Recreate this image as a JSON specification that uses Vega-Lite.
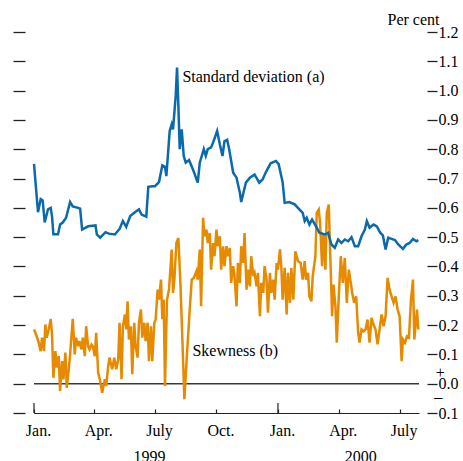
{
"$schema": "https://vega.github.io/schema/vega-lite/v6.json",
"width": 385, "height": 381,
"autosize": {"type": "none"},
"padding": {"left": 34, "top": 32, "right": 44, "bottom": 48},
"background": "white",
"config": {"view": {"stroke": null}, "font": "Liberation Serif"},
"datasets": {
"skew": [
{"day":0,"value":0.185},{"day":4,"value":0.162},{"day":7,"value":0.14},{"day":10,"value":0.111},{"day":12,"value":0.157},{"day":15,"value":0.111},{"day":17,"value":0.202},{"day":19,"value":0.157},{"day":22,"value":0.185},{"day":25,"value":0.221},{"day":27,"value":0.168},{"day":29,"value":0.02},{"day":32,"value":0.111},{"day":34,"value":0.055},{"day":37,"value":0.094},{"day":39,"value":-0.025},{"day":42,"value":0.077},{"day":44,"value":0.015},{"day":47,"value":0.106},{"day":49,"value":-0.014},{"day":52,"value":0.049},{"day":54,"value":0.1},{"day":58,"value":0.221},{"day":61,"value":0.1},{"day":63,"value":0.157},{"day":66,"value":0.128},{"day":68,"value":0.145},{"day":71,"value":0.117},{"day":73,"value":0.157},{"day":76,"value":0.094},{"day":78,"value":0.196},{"day":81,"value":0.128},{"day":83,"value":0.117},{"day":86,"value":0.134},{"day":88,"value":0.128},{"day":91,"value":0.094},{"day":93,"value":0.174},{"day":96,"value":0.037},{"day":99,"value":0.009},{"day":102,"value":-0.031},{"day":106,"value":0.015},{"day":108,"value":-0.008},{"day":111,"value":0.06},{"day":113,"value":0.089},{"day":117,"value":0.049},{"day":120,"value":0.089},{"day":123,"value":0.049},{"day":126,"value":0.083},{"day":128,"value":0.208},{"day":131,"value":0.015},{"day":133,"value":0.196},{"day":136,"value":0.236},{"day":138,"value":0.185},{"day":140,"value":0.281},{"day":142,"value":0.151},{"day":145,"value":0.196},{"day":147,"value":0.032},{"day":150,"value":0.208},{"day":152,"value":0.128},{"day":155,"value":0.089},{"day":157,"value":0.208},{"day":160,"value":0.253},{"day":162,"value":0.157},{"day":165,"value":0.208},{"day":167,"value":0.145},{"day":170,"value":0.208},{"day":172,"value":0.077},{"day":175,"value":0.196},{"day":177,"value":0.077},{"day":180,"value":0.208},{"day":182,"value":0.219},{"day":185,"value":0.321},{"day":187,"value":0.287},{"day":190,"value":0.355},{"day":192,"value":0.22},{"day":194,"value":0.287},{"day":196,"value":-0.008},{"day":199,"value":0.287},{"day":202,"value":0.321},{"day":206,"value":0.458},{"day":208,"value":0.31},{"day":210,"value":0.355},{"day":213,"value":0.48},{"day":216,"value":0.497},{"day":219,"value":0.344},{"day":222,"value":0.151},{"day":225,"value":-0.053},{"day":229,"value":0.106},{"day":233,"value":0.253},{"day":236,"value":0.355},{"day":239,"value":0.361},{"day":243,"value":0.384},{"day":245,"value":0.355},{"day":248,"value":0.458},{"day":250,"value":0.264},{"day":253,"value":0.566},{"day":255,"value":0.503},{"day":258,"value":0.526},{"day":260,"value":0.48},{"day":263,"value":0.514},{"day":265,"value":0.389},{"day":268,"value":0.48},{"day":270,"value":0.435},{"day":273,"value":0.526},{"day":275,"value":0.469},{"day":278,"value":0.503},{"day":280,"value":0.389},{"day":283,"value":0.469},{"day":285,"value":0.401},{"day":288,"value":0.469},{"day":290,"value":0.435},{"day":293,"value":0.463},{"day":295,"value":0.344},{"day":298,"value":0.401},{"day":300,"value":0.367},{"day":303,"value":0.264},{"day":305,"value":0.412},{"day":308,"value":0.344},{"day":310,"value":0.469},{"day":313,"value":0.412},{"day":315,"value":0.514},{"day":318,"value":0.321},{"day":320,"value":0.389},{"day":323,"value":0.332},{"day":325,"value":0.435},{"day":328,"value":0.367},{"day":330,"value":0.378},{"day":333,"value":0.332},{"day":335,"value":0.378},{"day":338,"value":0.23},{"day":340,"value":0.344},{"day":343,"value":0.31},{"day":345,"value":0.401},{"day":348,"value":0.355},{"day":350,"value":0.242},{"day":353,"value":0.378},{"day":355,"value":0.31},{"day":358,"value":0.355},{"day":360,"value":0.287},{"day":363,"value":0.412},{"day":365,"value":0.389},{"day":368,"value":0.458},{"day":370,"value":0.4},{"day":372,"value":0.287},{"day":375,"value":0.395},{"day":378,"value":0.236},{"day":380,"value":0.378},{"day":383,"value":0.276},{"day":385,"value":0.395},{"day":388,"value":0.287},{"day":391,"value":0.452},{"day":395,"value":0.418},{"day":399,"value":0.412},{"day":402,"value":0.355},{"day":405,"value":0.418},{"day":407,"value":0.355},{"day":410,"value":0.378},{"day":412,"value":0.298},{"day":415,"value":0.281},{"day":417,"value":0.367},{"day":421,"value":0.435},{"day":423,"value":0.583},{"day":426,"value":0.594},{"day":428,"value":0.549},{"day":431,"value":0.401},{"day":433,"value":0.514},{"day":436,"value":0.389},{"day":438,"value":0.583},{"day":441,"value":0.611},{"day":443,"value":0.458},{"day":446,"value":0.23},{"day":448,"value":0.338},{"day":451,"value":0.264},{"day":453,"value":0.14},{"day":456,"value":0.298},{"day":459,"value":0.435},{"day":462,"value":0.344},{"day":465,"value":0.429},{"day":468,"value":0.276},{"day":471,"value":0.389},{"day":474,"value":0.344},{"day":476,"value":0.31},{"day":479,"value":0.276},{"day":482,"value":0.298},{"day":485,"value":0.174},{"day":487,"value":0.14},{"day":490,"value":0.185},{"day":493,"value":0.179},{"day":496,"value":0.185},{"day":499,"value":0.219},{"day":502,"value":0.14},{"day":505,"value":0.225},{"day":508,"value":0.202},{"day":511,"value":0.185},{"day":514,"value":0.134},{"day":517,"value":0.185},{"day":520,"value":0.236},{"day":523,"value":0.196},{"day":526,"value":0.23},{"day":529,"value":0.361},{"day":532,"value":0.321},{"day":535,"value":0.298},{"day":538,"value":0.276},{"day":541,"value":0.298},{"day":544,"value":0.253},{"day":547,"value":0.23},{"day":550,"value":0.077},{"day":552,"value":0.151},{"day":555,"value":0.14},{"day":558,"value":0.162},{"day":561,"value":0.157},{"day":564,"value":0.287},{"day":567,"value":0.355},{"day":569,"value":0.151},{"day":573,"value":0.253},{"day":575,"value":0.185}
],
"sd": [
{"day":0,"value":0.75},{"day":6,"value":0.585},{"day":10,"value":0.63},{"day":13,"value":0.625},{"day":16,"value":0.55},{"day":21,"value":0.595},{"day":25,"value":0.6},{"day":27,"value":0.57},{"day":29,"value":0.51},{"day":36,"value":0.51},{"day":39,"value":0.543},{"day":43,"value":0.55},{"day":48,"value":0.566},{"day":54,"value":0.62},{"day":58,"value":0.605},{"day":66,"value":0.6},{"day":69,"value":0.597},{"day":72,"value":0.526},{"day":81,"value":0.537},{"day":92,"value":0.54},{"day":94,"value":0.509},{"day":99,"value":0.498},{"day":107,"value":0.517},{"day":112,"value":0.512},{"day":121,"value":0.509},{"day":128,"value":0.528},{"day":133,"value":0.555},{"day":138,"value":0.535},{"day":144,"value":0.572},{"day":151,"value":0.585},{"day":157,"value":0.595},{"day":161,"value":0.577},{"day":168,"value":0.57},{"day":171,"value":0.672},{"day":177,"value":0.674},{"day":181,"value":0.674},{"day":187,"value":0.688},{"day":192,"value":0.745},{"day":196,"value":0.74},{"day":198,"value":0.708},{"day":203,"value":0.862},{"day":206,"value":0.885},{"day":208,"value":0.868},{"day":212,"value":0.982},{"day":214,"value":1.079},{"day":216,"value":0.948},{"day":218,"value":0.8},{"day":221,"value":0.868},{"day":224,"value":0.777},{"day":227,"value":0.754},{"day":232,"value":0.763},{"day":238,"value":0.73},{"day":245,"value":0.686},{"day":248,"value":0.754},{"day":254,"value":0.8},{"day":257,"value":0.777},{"day":260,"value":0.8},{"day":265,"value":0.806},{"day":268,"value":0.823},{"day":274,"value":0.862},{"day":278,"value":0.817},{"day":282,"value":0.777},{"day":285,"value":0.828},{"day":289,"value":0.832},{"day":292,"value":0.8},{"day":298,"value":0.72},{"day":303,"value":0.703},{"day":308,"value":0.652},{"day":310,"value":0.62},{"day":317,"value":0.686},{"day":323,"value":0.703},{"day":330,"value":0.714},{"day":337,"value":0.686},{"day":342,"value":0.697},{"day":347,"value":0.722},{"day":354,"value":0.752},{"day":362,"value":0.76},{"day":366,"value":0.749},{"day":372,"value":0.687},{"day":375,"value":0.617},{"day":382,"value":0.62},{"day":390,"value":0.612},{"day":397,"value":0.595},{"day":402,"value":0.583},{"day":405,"value":0.555},{"day":408,"value":0.566},{"day":412,"value":0.543},{"day":416,"value":0.56},{"day":422,"value":0.537},{"day":427,"value":0.515},{"day":435,"value":0.509},{"day":440,"value":0.515},{"day":445,"value":0.475},{"day":450,"value":0.464},{"day":455,"value":0.492},{"day":460,"value":0.48},{"day":465,"value":0.492},{"day":470,"value":0.486},{"day":475,"value":0.5},{"day":480,"value":0.469},{"day":485,"value":0.469},{"day":490,"value":0.503},{"day":495,"value":0.526},{"day":498,"value":0.555},{"day":502,"value":0.532},{"day":508,"value":0.543},{"day":513,"value":0.537},{"day":518,"value":0.515},{"day":522,"value":0.506},{"day":526,"value":0.458},{"day":530,"value":0.498},{"day":535,"value":0.494},{"day":540,"value":0.49},{"day":545,"value":0.475},{"day":552,"value":0.46},{"day":557,"value":0.475},{"day":562,"value":0.48},{"day":567,"value":0.494},{"day":572,"value":0.486},{"day":575,"value":0.49}
],
"notes": [
{"text":"Standard deviation (a)","day":222,"value":1.03},
{"text":"Skewness (b)","day":237,"value":0.093},
{"text":"1999","day":149,"value":-0.268},
{"text":"2000","day":465,"value":-0.268},
{"text":"+","day":601,"value":0.02},
{"text":"\u2013","day":599,"value":-0.064}
],
"janticks": [{"day":0},{"day":365}]
},
"layer": [
{
"data": {"values": [{"value": 0}]},
"mark": {"type": "rule", "color": "#3a3a3a", "strokeWidth": 1.5},
"encoding": {
"y": {"field": "value", "type": "quantitative", "scale": {"domain": [-0.1, 1.2], "nice": false, "zero": false},
"axis": {"orient": "left", "offset": 9, "values": [-0.1,0,0.1,0.2,0.3,0.4,0.5,0.6,0.7,0.8,0.9,1,1.1,1.2], "labels": false, "domain": false, "grid": false, "tickSize": 12, "tickColor": "#222", "tickWidth": 1.3, "title": null}}
}
},
{
"data": {"name": "skew"},
"mark": {"type": "line", "color": "#e68a00", "strokeWidth": 2.5},
"encoding": {
"x": {"field": "day", "type": "quantitative", "scale": {"domain": [0, 576], "nice": false, "zero": false},
"axis": {"values": [0,90,181,273,365,456,547], "labelExpr": "datum.value == 0 || datum.value == 365 ? 'Jan.' : (datum.value == 90 || datum.value == 456 ? 'Apr.' : (datum.value == 181 || datum.value == 547 ? 'July' : 'Oct.'))", "title": null, "grid": false, "domain": true, "domainColor": "#222", "domainWidth": 1.2, "ticks": true, "tickColor": "#222", "tickWidth": 1.2, "tickSize": -4, "labelFont": "Liberation Serif", "labelFontSize": 16, "labelColor": "black", "labelPadding": 13, "labelOffset": 4, "labelFlush": false, "labelOverlap": false, "labelBaseline": "top"}},
"y": {"field": "value", "type": "quantitative", "scale": {"domain": [-0.1, 1.2], "nice": false, "zero": false},
"axis": {"orient": "right", "offset": 8, "values": [-0.1,0,0.1,0.2,0.3,0.4,0.5,0.6,0.7,0.8,0.9,1,1.1,1.2], "tickSize": 10, "tickColor": "#222", "tickWidth": 1.3, "domain": false, "grid": false, "labelFont": "Liberation Serif", "labelFontSize": 16, "labelColor": "black", "labelPadding": 1, "labelOverlap": false, "labelFlush": false, "labelExpr": "format(abs(datum.value), '.1f')", "title": "Per cent", "titleAngle": 0, "titleAlign": "right", "titleBaseline": "alphabetic", "titleX": 12, "titleY": -7.5, "titleFont": "Liberation Serif", "titleFontSize": 16, "titleFontWeight": "normal", "titleColor": "black"}}
}
},
{
"data": {"name": "janticks"},
"mark": {"type": "rule", "color": "#222", "strokeWidth": 1.2},
"encoding": {
"x": {"field": "day", "type": "quantitative", "scale": {"domain": [0, 576], "nice": false, "zero": false}},
"y": {"datum": -0.1, "type": "quantitative", "scale": {"domain": [-0.1, 1.2], "nice": false, "zero": false}, "axis": null},
"y2": {"datum": -0.066}
}
},
{
"data": {"name": "sd"},
"mark": {"type": "line", "color": "#0a6aab", "strokeWidth": 2.5},
"encoding": {
"x": {"field": "day", "type": "quantitative", "scale": {"domain": [0, 576], "nice": false, "zero": false}},
"y": {"field": "value", "type": "quantitative", "scale": {"domain": [-0.1, 1.2], "nice": false, "zero": false}, "axis": null}
}
},
{
"data": {"name": "notes"},
"mark": {"type": "text", "align": "left", "baseline": "alphabetic", "font": "Liberation Serif", "fontSize": 16, "color": "black"},
"encoding": {
"x": {"field": "day", "type": "quantitative", "scale": {"domain": [0, 576], "nice": false, "zero": false}},
"y": {"field": "value", "type": "quantitative", "scale": {"domain": [-0.1, 1.2], "nice": false, "zero": false}, "axis": null},
"text": {"field": "text"}
}
}
],
"resolve": {"axis": {"y": "independent"}}
}
